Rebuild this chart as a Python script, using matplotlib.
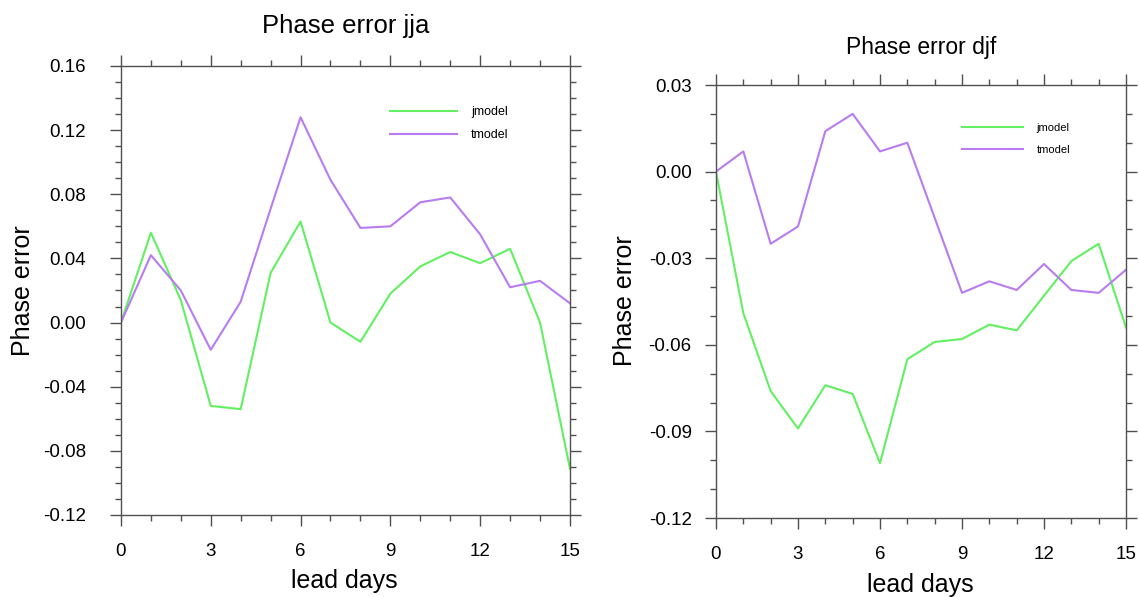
import matplotlib
matplotlib.use('Agg')
import matplotlib.pyplot as plt
from matplotlib.ticker import MultipleLocator
import numpy as np

plt.rcParams['font.family'] = ['Liberation Sans', 'DejaVu Sans']

# Lead days shared by both panels
lead_days = list(range(16))

# JJA season
jja_jmodel = [0.0, 0.056, 0.014, -0.052, -0.054, 0.031, 0.063, 0.0, -0.012, 0.018,
              0.035, 0.044, 0.037, 0.046, 0.0, -0.091]
jja_tmodel = [0.0, 0.042, 0.020, -0.017, 0.013, 0.071, 0.128, 0.089, 0.059, 0.060,
              0.075, 0.078, 0.055, 0.022, 0.026, 0.012]

# DJF season
djf_jmodel = [0.0, -0.049, -0.076, -0.089, -0.074, -0.077, -0.101, -0.065, -0.059, -0.058,
              -0.053, -0.055, -0.043, -0.031, -0.025, -0.054]
djf_tmodel = [0.0, 0.007, -0.025, -0.019, 0.014, 0.020, 0.007, 0.010, -0.016, -0.042,
              -0.038, -0.041, -0.032, -0.041, -0.042, -0.034]

GREEN = '#62f062'
PURPLE = '#b87cf0'
AXCOL = '#505050'


def style_axes(ax, ymin, ymax, ymajor, yminor, ypad, ylab_xy, xlab_xy):
    ax.set_xlim(0, 15)
    ax.set_ylim(ymin, ymax)
    ax.xaxis.set_major_locator(MultipleLocator(3))
    ax.xaxis.set_minor_locator(MultipleLocator(1))
    ax.yaxis.set_major_locator(MultipleLocator(ymajor))
    ax.yaxis.set_minor_locator(MultipleLocator(yminor))
    ax.yaxis.set_major_formatter(plt.FuncFormatter(lambda v, p: '{:.2f}'.format(v)))
    ax.tick_params(which='both', direction='out', top=True, right=True,
                   labeltop=False, labelright=False, color=AXCOL, width=1)
    ax.tick_params(which='major', length=8, labelsize=13.5)
    ax.tick_params(which='minor', length=4)
    ax.tick_params(axis='x', which='major', pad=12)
    ax.tick_params(axis='y', which='major', pad=ypad)
    for s in ax.spines.values():
        s.set_color(AXCOL)
        s.set_linewidth(1)
    ax.set_xlabel('lead days', fontsize=18, va='center')
    ax.set_ylabel('Phase error', fontsize=18, va='center')
    ax.xaxis.set_label_coords(*xlab_xy)
    ax.yaxis.set_label_coords(*ylab_xy)


fig = plt.figure(figsize=(11.39, 5.97), dpi=100)

# Left panel: jja
ax1 = fig.add_axes([0.1062, 0.1374, 0.3942, 0.7521])
ax1.plot(lead_days, jja_jmodel, color=GREEN, lw=1.5, label='jmodel')
ax1.plot(lead_days, jja_tmodel, color=PURPLE, lw=1.5, label='tmodel')
style_axes(ax1, -0.12, 0.16, 0.04, 0.01, 17, (-0.218, 0.499), (0.497, -0.147))
ax1.set_title('Phase error jja', fontsize=18.5, pad=24)
ax1.legend(loc='upper left', bbox_to_anchor=(0.599, 0.910), frameon=False,
           fontsize=9, handlelength=5.4, handletextpad=1.1, labelspacing=0.85,
           borderpad=0, borderaxespad=0)

# Right panel: djf
ax2 = fig.add_axes([0.6286, 0.1323, 0.36, 0.7253])
ax2.plot(lead_days, djf_jmodel, color=GREEN, lw=1.5, label='jmodel')
ax2.plot(lead_days, djf_tmodel, color=PURPLE, lw=1.5, label='tmodel')
style_axes(ax2, -0.12, 0.03, 0.03, 0.01, 9.5, (-0.222, 0.503), (0.498, -0.155))
ax2.set_title('Phase error djf', fontsize=16.5, pad=22)
ax2.legend(loc='upper left', bbox_to_anchor=(0.60, 0.912), frameon=False,
           fontsize=8, handlelength=5.5, handletextpad=1.2, labelspacing=1.1,
           borderpad=0, borderaxespad=0)

fig.savefig('out.png', dpi=100)
